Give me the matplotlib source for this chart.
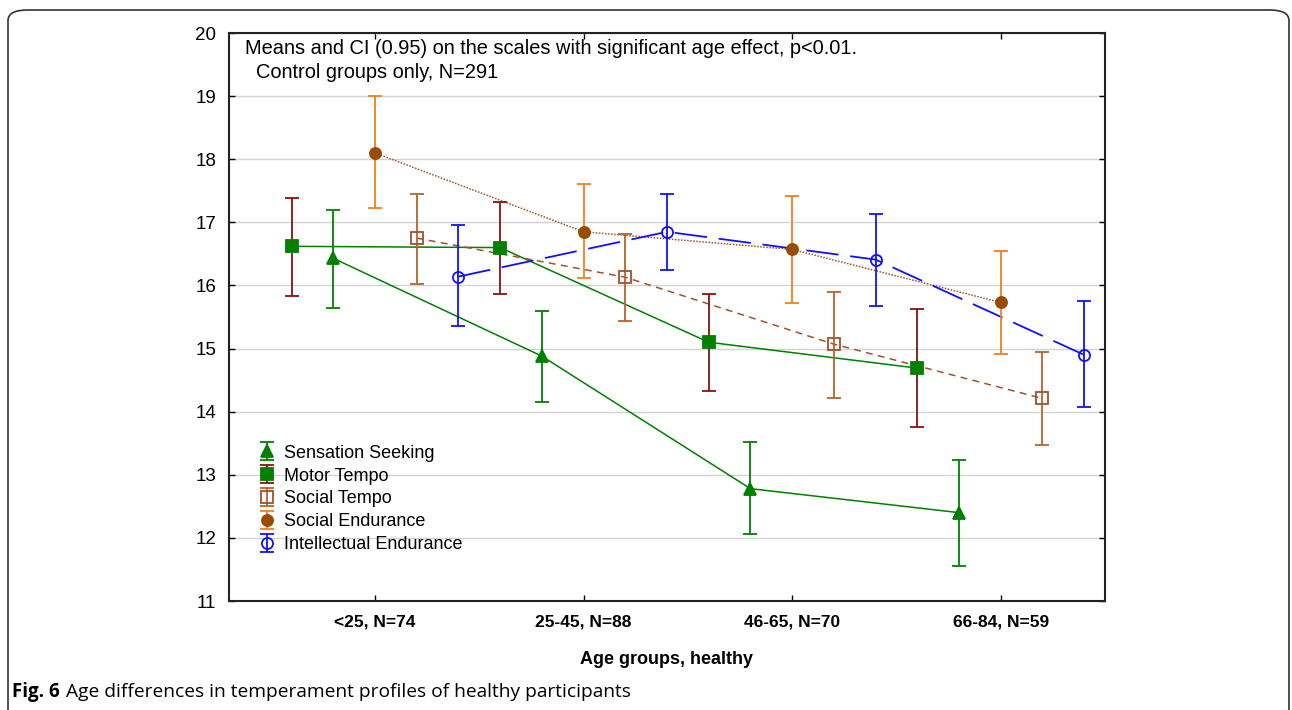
import numpy as np
import matplotlib
matplotlib.use("Agg")
import matplotlib.pyplot as plt
from matplotlib.patches import FancyBboxPatch

categories = ["<25, N=74", "25-45, N=88", "46-65, N=70", "66-84, N=59"]

ss_mean = [16.43, 14.88, 12.78, 12.40]
ss_lo = [15.64, 14.15, 12.06, 11.55]
ss_hi = [17.20, 15.60, 13.52, 13.24]

mt_mean = [16.62, 16.60, 15.10, 14.69]
mt_lo = [15.84, 15.86, 14.32, 13.75]
mt_hi = [17.39, 17.32, 15.87, 15.62]

st_mean = [16.75, 16.13, 15.07, 14.21]
st_lo = [16.02, 15.43, 14.22, 13.47]
st_hi = [17.45, 16.82, 15.90, 14.95]

se_mean = [18.10, 16.85, 16.57, 15.73]
se_lo = [17.23, 16.12, 15.72, 14.92]
se_hi = [19.00, 17.60, 17.41, 16.55]

ie_mean = [16.14, 16.85, 16.41, 14.90]
ie_lo = [15.35, 16.24, 15.68, 14.08]
ie_hi = [16.96, 17.45, 17.13, 15.76]

series_names = ["Sensation Seeking", "Motor Tempo", "Social Tempo",
                "Social Endurance", "Intellectual Endurance"]

plt.rcParams['font.family'] = ['Liberation Sans', 'DejaVu Sans']

fig = plt.figure(figsize=(12.92, 7.10), dpi=100)
ax = fig.add_axes([229/1292, 1-601/710, (1105-229)/1292, (601-33)/710])

# outer rounded frame
frame = FancyBboxPatch((8/1292, -0.05), (1289-8)/1292, 1.05 - 10/710,
                       boxstyle="round,pad=0,rounding_size=0.015",
                       transform=fig.transFigure, fill=False,
                       edgecolor="#333333", linewidth=1.2, clip_on=False)
fig.patches.append(frame)

x = np.arange(len(categories))

specs = [
    # mean, lo, hi, offset, line color, ecolor, marker, mfc, mec, linestyle, lw
    (ss_mean, ss_lo, ss_hi, -0.2, "#008000", "#008000", "^", "#008000", "#008000", "-", 1.1),
    (mt_mean, mt_lo, mt_hi, -0.4, "#008000", "#8B1010", "s", "#008000", "#008000", "-", 1.1),
    (st_mean, st_lo, st_hi, 0.2, "#A0522D", "#B5652E", "s", "none", "#A0522D", (0, (4.5, 3.5)), 1.1),
    (se_mean, se_lo, se_hi, 0.0, "#A0522D", "#F08020", "o", "#994C00", "#994C00", (0, (1, 1)), 1.1),
    (ie_mean, ie_lo, ie_hi, 0.4, "#1010FF", "#1010FF", "o", "none", "#1010FF", (0, (18, 6.5)), 1.3),
]

handles = []
for (m, lo, hi, off, lc, ec, mk, mfc, mec, ls, lw), name in zip(specs, series_names):
    m = np.array(m); lo = np.array(lo); hi = np.array(hi)
    xs = x + off
    ax.plot(xs, m, color=lc, linestyle=ls, linewidth=lw, zorder=2)
    eb = ax.errorbar(xs, m, yerr=[m - lo, hi - m], fmt=mk, color=ec,
                     ecolor=ec, elinewidth=1.3, capsize=5, capthick=1.3,
                     markersize=8 if mk != "^" else 9, markerfacecolor=mfc,
                     markeredgecolor=mec, markeredgewidth=1.3, zorder=3,
                     label=name)
    handles.append(eb)

ax.set_xlim(-0.70, 3.50)
ax.set_ylim(11, 20)
ax.set_yticks(range(11, 21))
ax.set_xticks(x)
ax.set_xticklabels(categories, fontweight="bold", fontsize=12.5)
ax.tick_params(axis="y", direction="in", length=4, labelsize=13.5, pad=9,
               right=True, width=1)
ax.tick_params(axis="x", direction="in", length=4, pad=10, top=True, width=1)
ax.yaxis.grid(True, color="#d3d3d3", linewidth=1)
ax.set_axisbelow(True)
for sp in ax.spines.values():
    sp.set_linewidth(1.5)
    sp.set_color("#222222")

ax.set_xlabel("Age groups, healthy", fontweight="bold", fontsize=13, labelpad=15)

ax.text(0.018, 0.99,
        "Means and CI (0.95) on the scales with significant age effect, p<0.01.\n  Control groups only, N=291",
        transform=ax.transAxes, ha="left", va="top", fontsize=14.4, linespacing=1.35)

leg = ax.legend(handles=handles, loc="lower left", bbox_to_anchor=(0.026, 0.072),
                frameon=False, fontsize=13, handlelength=0.9, handletextpad=0.5,
                labelspacing=0.32, borderaxespad=0)

fig.text(12/1292, 1-692/710, "Fig. 6", fontsize=13.5, va="center", ha="left",
         fontweight="bold", family=['Open Sans', 'DejaVu Sans'])
fig.text(66/1292, 1-692/710, "Age differences in temperament profiles of healthy participants",
         fontsize=13.8, va="center", ha="left", family=['Open Sans', 'DejaVu Sans'])

fig.savefig("out.png", dpi=100)
